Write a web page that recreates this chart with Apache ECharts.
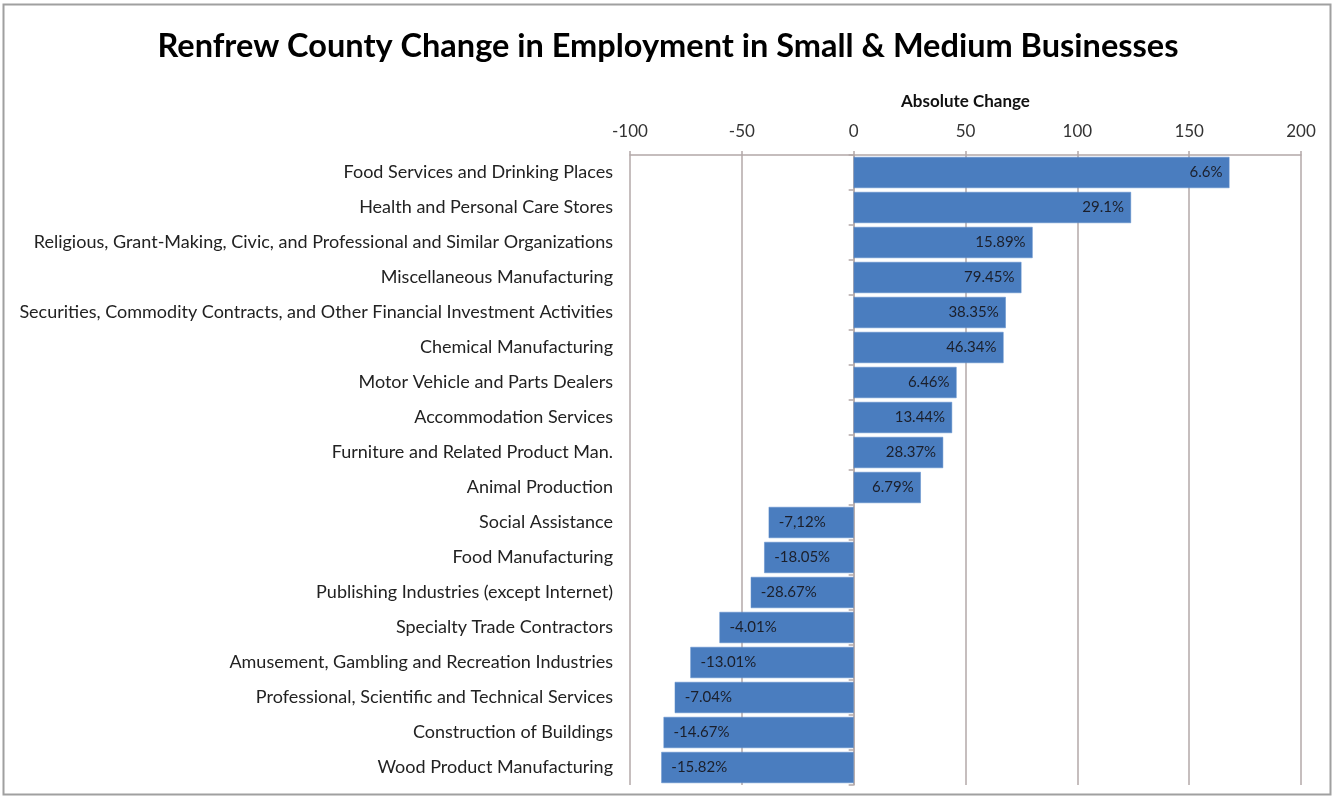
<!DOCTYPE html>
<html>
<head>
<meta charset="utf-8">
<script src="https://cdn.jsdelivr.net/npm/echarts@6/dist/echarts.min.js"></script>
<style>
  html, body { margin: 0; padding: 0; background: #ffffff; }
  #chart { width: 1336px; height: 804px; }
</style>
</head>
<body>
<div id="chart"></div>
<script>
// Industries, listed top to bottom
const categories = [
  'Food Services and Drinking Places',
  'Health and Personal Care Stores',
  'Religious, Grant-Making, Civic, and Professional and Similar Organizations',
  'Miscellaneous Manufacturing',
  'Securities, Commodity Contracts, and Other Financial Investment Activities',
  'Chemical Manufacturing',
  'Motor Vehicle and Parts Dealers',
  'Accommodation Services',
  'Furniture and Related Product Man.',
  'Animal Production',
  'Social Assistance',
  'Food Manufacturing',
  'Publishing Industries (except Internet)',
  'Specialty Trade Contractors',
  'Amusement, Gambling and Recreation Industries',
  'Professional, Scientific and Technical Services',
  'Construction of Buildings',
  'Wood Product Manufacturing'
];

// Absolute change in employment
const absoluteChange = [168, 124, 80, 75, 68, 67, 46, 44, 40, 30, -38, -40, -46, -60, -73, -80, -85, -86];

// Percentage change shown inside each bar
const percentChange = [
  '6.6%', '29.1%', '15.89%', '79.45%', '38.35%', '46.34%', '6.46%', '13.44%', '28.37%',
  '6.79%', '-7,12%', '-18.05%', '-28.67%', '-4.01%', '-13.01%', '-7.04%', '-14.67%', '-15.82%'
];

// Value axis range
const axisMin = -100;
const axisMax = 200;
const axisStep = 50;

const gridColor = '#b3a8a8';
const barColor = '#4a7dbf';
const fontFamily = 'Lato, "Open Sans", sans-serif';

const chart = echarts.init(document.getElementById('chart'), null, { renderer: 'canvas' });

const barData = absoluteChange.map((v, i) => ({
  value: v,
  label: {
    position: v >= 0 ? 'insideRight' : 'insideLeft',
    distance: v >= 0 ? 7 : 10,
    formatter: () => percentChange[i]
  }
}));

chart.setOption({
  backgroundColor: '#ffffff',
  animation: false,
  title: {
    text: 'Renfrew County Change in Employment in Small & Medium Businesses',
    left: 'center',
    top: 25,
    textStyle: { fontFamily, fontSize: 32.5, fontWeight: 'bold', color: '#000000' }
  },
  graphic: [{
    type: 'rect',
    shape: { x: 3.5, y: 4.5, width: 1327, height: 790 },
    style: { fill: 'none', stroke: '#a0a0a0', lineWidth: 2 },
    silent: true,
    z: -1
  }],
  grid: { left: 630, right: 35, top: 155, bottom: 19, containLabel: false },
  xAxis: {
    type: 'value',
    position: 'top',
    min: axisMin,
    max: axisMax,
    interval: axisStep,
    name: 'Absolute Change',
    nameLocation: 'middle',
    nameGap: 45,
    nameTextStyle: { fontFamily, fontSize: 17, fontWeight: 'bold', color: '#111111' },
    axisLine: { show: true, lineStyle: { color: gridColor, width: 1.5 } },
    axisTick: { show: true, length: 4, lineStyle: { color: gridColor, width: 1.5 } },
    axisLabel: { fontFamily, fontSize: 17, color: '#333333', margin: 15 },
    splitLine: { show: true, lineStyle: { color: gridColor, width: 1.5 } }
  },
  yAxis: [{
    type: 'category',
    data: categories,
    inverse: true,
    position: 'left',
    axisLine: { show: false, onZero: false },
    axisTick: { show: false },
    axisLabel: { fontFamily, fontSize: 18, color: '#222222', margin: 17 }
  }, {
    type: 'category',
    data: categories,
    inverse: true,
    position: 'left',
    axisLine: { show: true, onZero: true, lineStyle: { color: gridColor, width: 1.5 } },
    axisTick: { show: true, length: 5, inside: false, lineStyle: { color: gridColor, width: 1.5 } },
    axisLabel: { show: false },
    splitLine: { show: false }
  }],
  series: [{
    type: 'bar',
    yAxisIndex: 0,
    data: barData,
    barCategoryGap: '11%',
    itemStyle: { color: barColor, borderColor: '#5d8ccb', borderWidth: 0.5 },
    label: {
      show: true,
      fontFamily,
      fontSize: 15,
      color: '#1b1f2b'
    }
  }]
});
</script>
</body>
</html>
